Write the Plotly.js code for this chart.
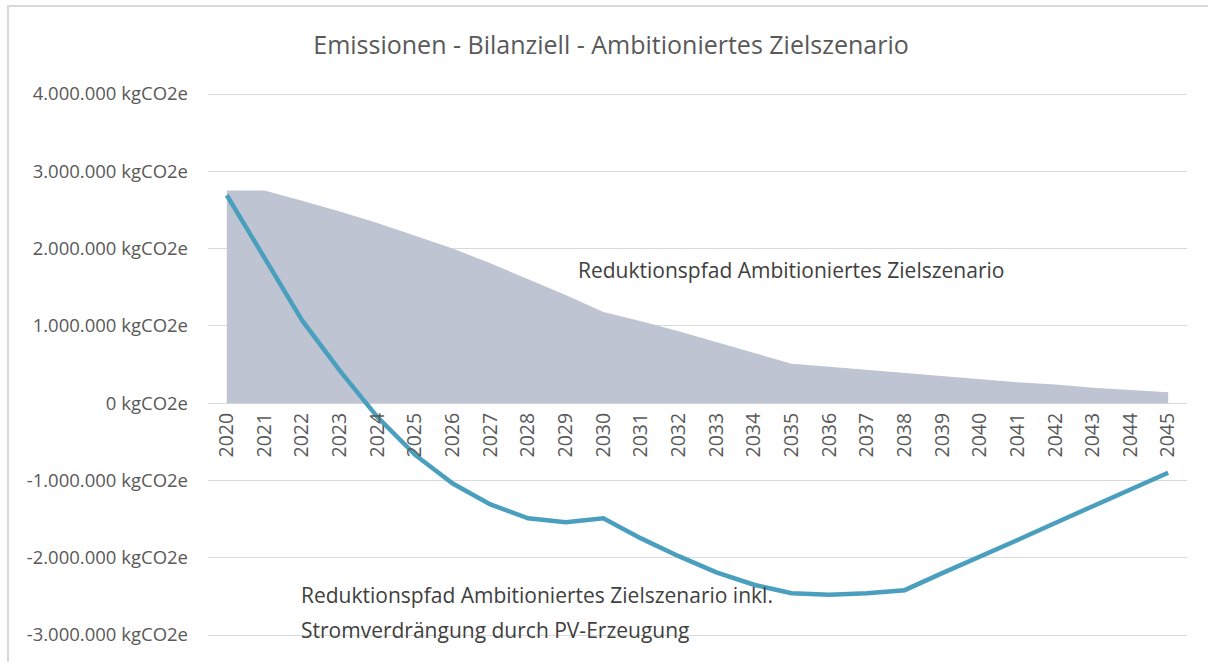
<!DOCTYPE html>
<html>
<head>
<meta charset="utf-8">
<script src="https://cdn.plot.ly/plotly-3.0.1.min.js"></script>
<style>
html,body{margin:0;padding:0;background:#fff;}
#frame{position:absolute;left:7px;top:5px;width:1300px;height:700px;border-left:2px solid #d9d9d9;border-top:2px solid #d9d9d9;pointer-events:none;z-index:5;}
#chart{position:absolute;left:0;top:0;width:1208px;height:662px;}
</style>
</head>
<body>
<div id="chart"></div>
<div id="frame"></div>
<script>
const years = ["2020","2021","2022","2023","2024","2025","2026","2027","2028","2029","2030","2031","2032","2033","2034","2035","2036","2037","2038","2039","2040","2041","2042","2043","2044","2045"];
const reduktionspfad = [2750000,2750000,2620000,2480000,2330000,2170000,2000000,1810000,1610000,1400000,1180000,1060000,930000,790000,650000,510000,470000,430000,390000,350000,310000,270000,240000,200000,170000,140000];
const reduktionspfadPV = [2690000,1880000,1070000,420000,-180000,-670000,-1040000,-1310000,-1490000,-1540000,-1490000,-1750000,-1980000,-2190000,-2350000,-2460000,-2480000,-2460000,-2420000,-2200000,-1990000,-1770000,-1550000,-1330000,-1120000,-900000];
const yTicks = [-3000000,-2000000,-1000000,0,1000000,2000000,3000000,4000000];
const yTickLabels = ["-3.000.000 kgCO2e","-2.000.000 kgCO2e","-1.000.000 kgCO2e","0 kgCO2e","1.000.000 kgCO2e","2.000.000 kgCO2e","3.000.000 kgCO2e","4.000.000 kgCO2e"];
const titleText = "Emissionen - Bilanziell - Ambitioniertes Zielszenario";
const label1 = "Reduktionspfad Ambitioniertes Zielszenario";
const label2a = "Reduktionspfad Ambitioniertes Zielszenario inkl.";
const label2b = "Stromverdrängung durch PV-Erzeugung";

const FONT = "Open Sans, Noto Sans, sans-serif";
const M = 4, B = 25, T = 92, H = 662;
const plotH = H - T - B;               // 545
const pxPerUnit = 541 / 7000000;       // 4M at y=94, -3M at y=635
const pad = 2 / pxPerUnit;

const traces = [
  {
    x: years, y: reduktionspfad, type: "scatter", mode: "lines",
    fill: "tozeroy", fillcolor: "#bec4d1",
    line: {width: 0, color: "#bec4d1"},
    hoverinfo: "skip", showlegend: false
  },
  {
    x: years, y: reduktionspfadPV, type: "scatter", mode: "lines",
    line: {width: 4.5, color: "#4a9fbf"},
    showlegend: false
  }
];

function py(y) { return (H - B - y) / plotH; }
function px(x) { return (x - 208) / 979; }

const layout = {
  width: 1208, height: 662,
  margin: {l: 208, r: 21, t: T, b: B},
  paper_bgcolor: "#fff", plot_bgcolor: "#fff",
  font: {family: FONT, color: "#595959"},
  title: {
    text: titleText,
    font: {family: FONT, size: 25, color: "#595959"},
    x: 611/1208, xanchor: "center", xref: "container",
    y: 1 - 45/662, yanchor: "middle", yref: "container"
  },
  xaxis: {
    type: "category",
    range: [-0.5, 25.5],
    anchor: "free", position: py(403),
    showgrid: false, zeroline: false, showline: false,
    ticks: "", tickangle: -90,
    ticklabelstandoff: 5,
    tickfont: {family: FONT, size: 19.5, color: "#595959"}
  },
  yaxis: {
    range: [-3000000 - pad, 4000000 + pad],
    tickvals: yTicks, ticktext: yTickLabels,
    showgrid: true, gridcolor: "#d9d9d9", gridwidth: 1,
    zeroline: true, zerolinecolor: "#d9d9d9", zerolinewidth: 1,
    showline: false, ticks: "",
    ticklabelstandoff: 19,
    tickfont: {family: FONT, size: 18.5, color: "#595959"}
  },
  annotations: [
    {
      text: label1, xref: "paper", yref: "paper",
      x: px(576), y: py(270), xanchor: "left", yanchor: "middle",
      showarrow: false, align: "left",
      font: {family: FONT, size: 21, color: "#404040"}
    },
    {
      text: label2a, xref: "paper", yref: "paper",
      x: px(299), y: py(595), xanchor: "left", yanchor: "middle",
      showarrow: false, align: "left",
      font: {family: FONT, size: 21, color: "#404040"}
    },
    {
      text: label2b, xref: "paper", yref: "paper",
      x: px(299), y: py(630), xanchor: "left", yanchor: "middle",
      showarrow: false, align: "left",
      font: {family: FONT, size: 21, color: "#404040"}
    }
  ]
};

Plotly.newPlot("chart", traces, layout, {displayModeBar: false, staticPlot: true});
</script>
</body>
</html>
